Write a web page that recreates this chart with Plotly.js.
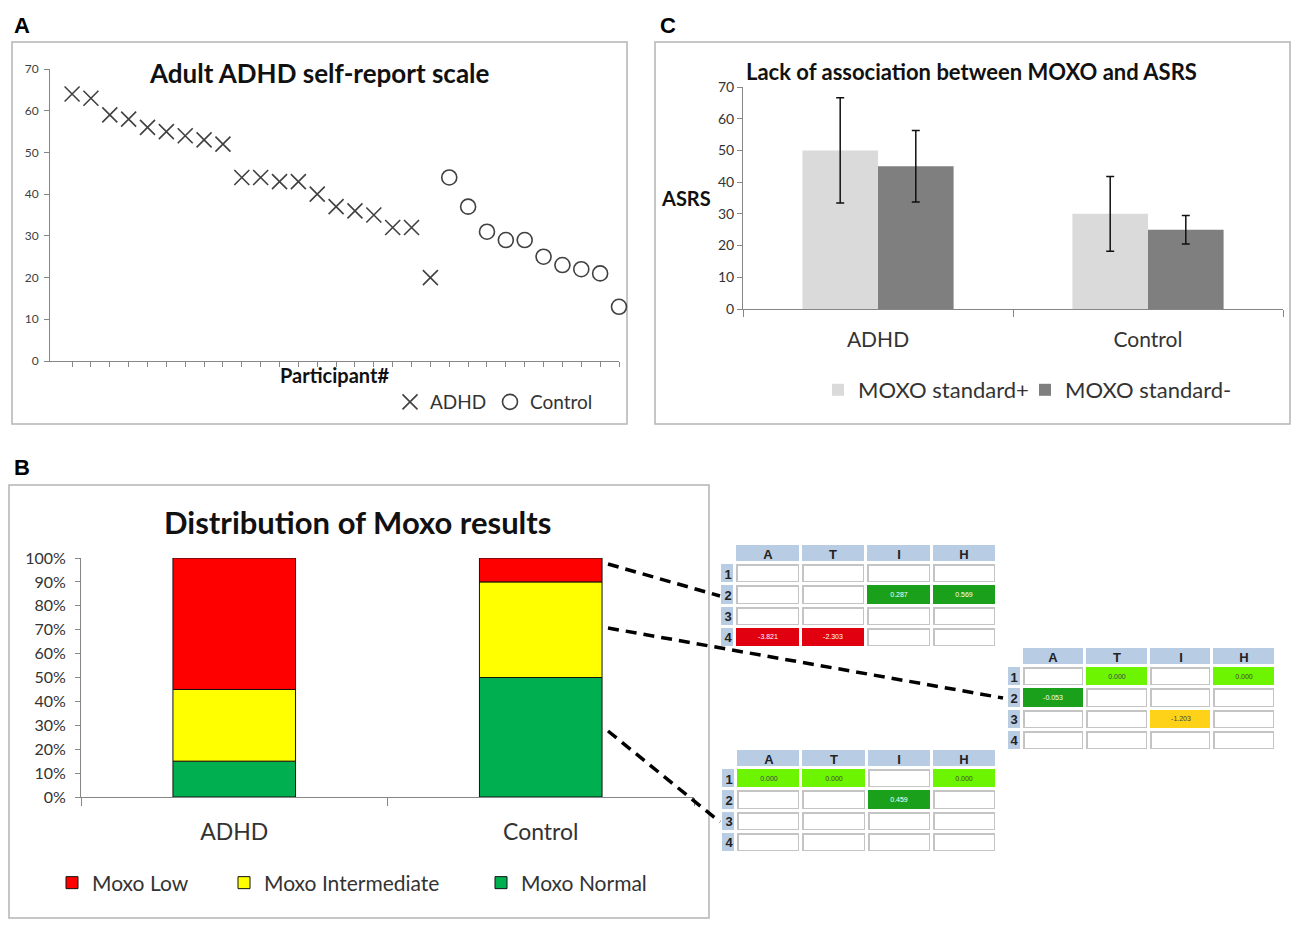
<!DOCTYPE html>
<html><head><meta charset="utf-8">
<script src="https://cdn.plot.ly/plotly-3.0.1.min.js"></script>
<style>html,body{margin:0;padding:0;background:#fff}#chart{width:1300px;height:929px}</style>
</head><body><div id="chart"></div>
<script>
// ---------- Panel A data ----------
const participantADHD = [1,2,3,4,5,6,7,8,9,10,11,12,13,14,15,16,17,18,19,20];
const asrsADHD = [64,63,59,58,56,55,54,53,52,44,44,43,43,40,37,36,35,32,32,20];
const participantControl = [21,22,23,24,25,26,27,28,29,30];
const asrsControl = [44,37,31,29,29,25,23,22,21,13];

// ---------- Panel C data ----------
const asrsGroups = ['ADHD','Control'];
const asrsStdPlus = [50,30];
const errStdPlus = [16.6,11.8];
const asrsStdMinus = [45,25];
const errStdMinus = [11.3,4.5];

// ---------- Panel B data ----------
const moxoGroups = ['ADHD','Control'];
const moxoNormal = [15,50];
const moxoIntermediate = [30,40];
const moxoLow = [55,10];

// ---------- Tables ----------
const tableColumns = ['A','T','I','H'];
const tableRowIds = ['1','2','3','4'];
const table1Values = [
  ['','','',''],
  ['','','0.287','0.569'],
  ['','','',''],
  ['-3.821','-2.303','','']
];
const table1Levels = [
  ['','','',''],
  ['','','dark','dark'],
  ['','','',''],
  ['red','red','','']
];
const table2Values = [
  ['','0.000','','0.000'],
  ['-0.053','','',''],
  ['','','-1.203',''],
  ['','','','']
];
const table2Levels = [
  ['','light','','light'],
  ['dark','','',''],
  ['','','yellow',''],
  ['','','','']
];
const table3Values = [
  ['0.000','0.000','','0.000'],
  ['','','0.459',''],
  ['','','',''],
  ['','','','']
];
const table3Levels = [
  ['light','light','','light'],
  ['','','dark',''],
  ['','','',''],
  ['','','','']
];

// ---------- helpers ----------
const W = 1300, H = 929;
const fx = p => p / W;
const fy = p => 1 - p / H;
const FONT = 'Lato, "Liberation Sans", sans-serif';
const ARIAL = '"Liberation Sans", Arial, sans-serif';
const axisGrey = '#868686';
const levelCode = {'':0, red:1, dark:2, light:3, yellow:4};
const levelScale = [[0,'#ffffff'],[0.25,'#e00010'],[0.5,'#1aa01a'],[0.75,'#6cf400'],[1,'#ffd21a']];
const frameScale = [[0,'#c4c4c4'],[0.2,'#e00010'],[0.4,'#1aa01a'],[0.6,'#6cf400'],[0.8,'#ffd21a'],[1,'#b8cce4']];
const HEADER_CODE = 5;
// table geometry (layout units)
const idColW = 15, colW = 65, headH = 19, rowH = 21;
const xEdges = [0, idColW].concat(tableColumns.map((c, j) => idColW + colW * (j + 1)));
const yEdges = [0, headH].concat(tableRowIds.map((r, i) => headH + rowH * (i + 1)));

function makeTable(values, levels, n, x0, x1, y0, y1) {
  const xa = 'x' + n, ya = 'y' + n;
  const zFrame = [[null].concat(tableColumns.map(() => HEADER_CODE))]
    .concat(levels.map(row => [HEADER_CODE].concat(row.map(l => levelCode[l]))));
  const tFrame = [[''].concat(tableColumns)]
    .concat(tableRowIds.map(r => [r].concat(tableColumns.map(() => ''))));
  const zFill = [[null].concat(tableColumns.map(() => null))]
    .concat(levels.map(row => [null].concat(row.map(l => levelCode[l]))));
  const tFill = [[''].concat(tableColumns.map(() => ''))]
    .concat(values.map(row => [''].concat(row)));
  const frame = {type:'heatmap', x: xEdges, y: yEdges, z: zFrame, text: tFrame, texttemplate:'%{text}',
    textfont:{family: ARIAL, size: 13, weight: 'bold', color: '#222'},
    colorscale: frameScale, zmin: 0, zmax: 5, showscale: false, xgap: 3, ygap: 3,
    xaxis: xa, yaxis: ya, hoverinfo: 'skip', showlegend: false};
  const fill = {type:'heatmap', x: xEdges, y: yEdges, z: zFill, text: tFill, texttemplate:'%{text}',
    textfont:{family: ARIAL, size: 7},
    colorscale: levelScale, zmin: 0, zmax: 4, showscale: false, xgap: 6, ygap: 6,
    xaxis: xa, yaxis: ya, hoverinfo: 'skip', showlegend: false};
  const axes = {};
  axes['xaxis' + n] = {domain: [fx(x0), fx(x1)], range: [0, xEdges[xEdges.length - 1]], visible: false, fixedrange: true, anchor: ya};
  axes['yaxis' + n] = {domain: [fy(y1), fy(y0)], range: [yEdges[yEdges.length - 1], 0], visible: false, fixedrange: true, anchor: xa};
  return {traces: [frame, fill], axes: axes};
}

const t1 = makeTable(table1Values, table1Levels, 4, 720, 997, 544, 648);
const t2 = makeTable(table2Values, table2Levels, 5, 1007, 1276, 647, 751);
const t3 = makeTable(table3Values, table3Levels, 6, 721, 997, 749, 853);

const traces = [
  // Panel A
  {type:'scatter', mode:'markers', name:'ADHD', x: participantADHD, y: asrsADHD, xaxis:'x', yaxis:'y',
   cliponaxis:false,
   marker:{symbol:'x-thin-open', size:15, color:'#404040', line:{width:1.6, color:'#404040'}}, legend:'legend'},
  {type:'scatter', mode:'markers', name:'Control', x: participantControl, y: asrsControl, xaxis:'x', yaxis:'y',
   cliponaxis:false,
   marker:{symbol:'circle-open', size:15, color:'#404040', line:{width:1.6, color:'#404040'}}, legend:'legend2'},
  // Panel C
  {type:'bar', name:'MOXO standard+', x: asrsGroups, y: asrsStdPlus, xaxis:'x2', yaxis:'y2',
   width:0.28, offset:-0.28, marker:{color:'#dadada'},
   error_y:{type:'data', array: errStdPlus, visible:true, color:'#111', thickness:1.5, width:4}, legend:'legend3'},
  {type:'bar', name:'MOXO standard-', x: asrsGroups, y: asrsStdMinus, xaxis:'x2', yaxis:'y2',
   width:0.28, offset:0, marker:{color:'#7f7f7f'},
   error_y:{type:'data', array: errStdMinus, visible:true, color:'#111', thickness:1.5, width:4}, legend:'legend4'},
  // Panel B
  {type:'bar', name:'Moxo Normal', x: moxoGroups, y: moxoNormal, base: moxoGroups.map(() => 0),
   xaxis:'x3', yaxis:'y3', width:0.4, offset:-0.2, marker:{color:'#00b050', line:{color:'#111', width:1}}, legend:'legend7'},
  {type:'bar', name:'Moxo Intermediate', x: moxoGroups, y: moxoIntermediate, base: moxoNormal,
   xaxis:'x3', yaxis:'y3', width:0.4, offset:-0.2, marker:{color:'#ffff00', line:{color:'#111', width:1}}, legend:'legend6'},
  {type:'bar', name:'Moxo Low', x: moxoGroups, y: moxoLow, base: moxoNormal.map((v, i) => v + moxoIntermediate[i]),
   xaxis:'x3', yaxis:'y3', width:0.4, offset:-0.2, marker:{color:'#ff0000', line:{color:'#111', width:1}}, legend:'legend5'}
].concat(t1.traces, t2.traces, t3.traces);

const baseAxis = {showgrid:false, zeroline:false, showline:true, linecolor:axisGrey, linewidth:1,
  ticks:'outside', tickcolor:axisGrey, ticklen:5, fixedrange:true};

function leg(xPx, yPx, size) {
  return {orientation:'h', x: fx(xPx), y: fy(yPx), xanchor:'left', yanchor:'middle', bgcolor:'rgba(0,0,0,0)',
    font:{family:FONT, size:size, color:'#333'}};
}

const layout = Object.assign({
  width: W, height: H,
  margin: {l:0, r:0, t:0, b:0},
  paper_bgcolor:'#ffffff', plot_bgcolor:'rgba(0,0,0,0)',
  barmode:'overlay',
  font:{family: FONT, color:'#222'},
  // Panel A axes
  xaxis: Object.assign({}, baseAxis, {domain:[fx(50), fx(619)], range:[-0.17, 30], tickvals: participantADHD.concat(participantControl),
    showticklabels:false, anchor:'y',
    title:{text:'<b>Participant#</b>', font:{family:FONT, size:20, color:'#111'}, standoff:2}}),
  yaxis: Object.assign({}, baseAxis, {domain:[fy(361), fy(69)], range:[0,70], dtick:10, anchor:'x',
    ticklabelstandoff:3, tickfont:{family:FONT, size:12, color:'#404040'}}),
  // Panel C axes
  xaxis2: Object.assign({}, baseAxis, {domain:[fx(743), fx(1283)], range:[-0.5,1.5], type:'category', anchor:'y2',
    tickson:'boundaries', ticklen:7, ticklabelstandoff:12, tickfont:{family:FONT, size:21, color:'#333'}}),
  yaxis2: Object.assign({}, baseAxis, {domain:[fy(309), fy(87)], range:[0,70], dtick:10, anchor:'x2',
    tickfont:{family:FONT, size:14, color:'#333'}}),
  // Panel B axes
  xaxis3: Object.assign({}, baseAxis, {domain:[fx(81), fx(694)], range:[-0.5,1.5], type:'category', anchor:'y3',
    tickson:'boundaries', ticklen:8, ticklabelstandoff:14, tickfont:{family:FONT, size:23, color:'#333'}}),
  yaxis3: Object.assign({}, baseAxis, {domain:[fy(797), fy(558)], range:[0,100], dtick:10, ticksuffix:'%', anchor:'x3',
    ticklabelstandoff:6, tickfont:{family:FONT, size:16, color:'#333'}}),
  showlegend: true,
  legend: leg(390, 402, 19),
  legend2: leg(490, 402, 19),
  legend3: leg(818, 390, 22),
  legend4: leg(1025, 390, 22),
  legend5: leg(52, 883, 21),
  legend6: leg(224, 883, 21),
  legend7: leg(481, 883, 21),
  annotations: [
    {text:'<b>A</b>', x: fx(12), y: fy(25), xref:'paper', yref:'paper', xanchor:'left', yanchor:'middle', showarrow:false,
     font:{family:ARIAL, size:22, color:'#000'}},
    {text:'<b>C</b>', x: fx(658), y: fy(25), xref:'paper', yref:'paper', xanchor:'left', yanchor:'middle', showarrow:false,
     font:{family:ARIAL, size:22, color:'#000'}},
    {text:'<b>B</b>', x: fx(12), y: fy(467), xref:'paper', yref:'paper', xanchor:'left', yanchor:'middle', showarrow:false,
     font:{family:ARIAL, size:22, color:'#000'}},
    {text:'<b>Adult ADHD self-report scale</b>', x: fx(319), y: fy(73), xref:'paper', yref:'paper', showarrow:false,
     xanchor:'center', yanchor:'middle', font:{family:FONT, size:26, color:'#111'}},
    {text:'<b>Lack of association between MOXO and ASRS</b>', x: fx(971), y: fy(72), xref:'paper', yref:'paper', showarrow:false,
     xanchor:'center', yanchor:'middle', font:{family:FONT, size:22, color:'#111'}},
    {text:'<b>ASRS</b>', x: fx(686), y: fy(198), xref:'paper', yref:'paper', showarrow:false,
     xanchor:'center', yanchor:'middle', font:{family:FONT, size:20, color:'#111'}},
    {text:'<b>Distribution of Moxo results</b>', x: fx(357), y: fy(522), xref:'paper', yref:'paper', showarrow:false,
     xanchor:'center', yanchor:'middle', font:{family:FONT, size:31, color:'#111'}}
  ],
  shapes: [
    {type:'rect', xref:'paper', yref:'paper', x0: fx(12), x1: fx(627), y0: fy(424), y1: fy(42), line:{color:'#b4b4b4', width:1.5}, layer:'below'},
    {type:'rect', xref:'paper', yref:'paper', x0: fx(655), x1: fx(1290), y0: fy(424), y1: fy(42), line:{color:'#b4b4b4', width:1.5}, layer:'below'},
    {type:'rect', xref:'paper', yref:'paper', x0: fx(9), x1: fx(709), y0: fy(918), y1: fy(485), line:{color:'#b4b4b4', width:1.5}, layer:'below'},
    {type:'line', xref:'paper', yref:'paper', x0: fx(608), y0: fy(564), x1: fx(720), y1: fy(596), line:{color:'#000', width:3.5, dash:'11px,7px'}},
    {type:'line', xref:'paper', yref:'paper', x0: fx(608), y0: fy(628), x1: fx(1003), y1: fy(698), line:{color:'#000', width:3.5, dash:'11px,7px'}},
    {type:'line', xref:'paper', yref:'paper', x0: fx(608), y0: fy(731), x1: fx(720), y1: fy(822), line:{color:'#000', width:3.5, dash:'11px,7px'}}
  ]
}, t1.axes, t2.axes, t3.axes);

Plotly.newPlot('chart', traces, layout, {displayModeBar:false, staticPlot:true});
</script>
</body></html>
